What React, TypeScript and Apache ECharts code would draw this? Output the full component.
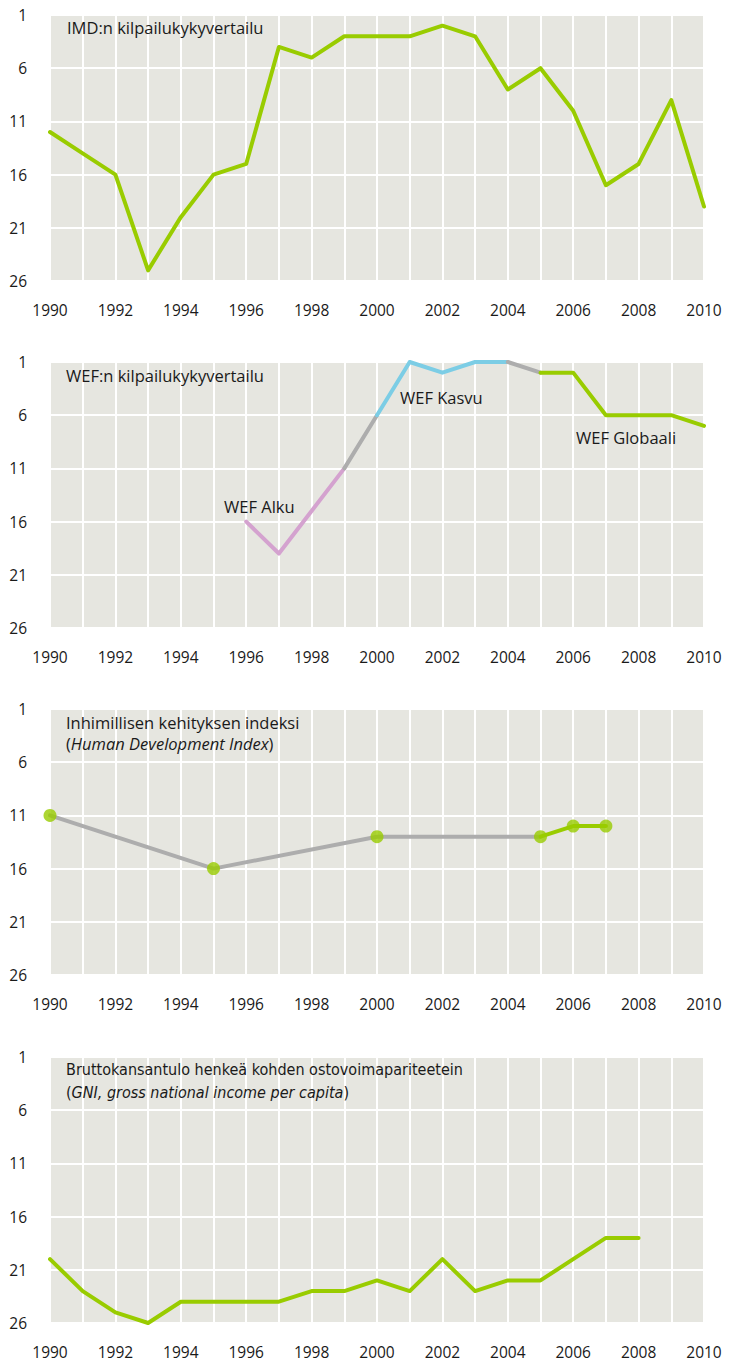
import React, { useEffect, useRef } from "react";
import * as echarts from "echarts";

const years = [1990, 1991, 1992, 1993, 1994, 1995, 1996, 1997, 1998, 1999, 2000, 2001, 2002, 2003, 2004, 2005, 2006, 2007, 2008, 2009, 2010];
const yTicks = [1, 6, 11, 16, 21, 26];

// Panel 1: IMD
const imd = [12, 14, 16, 25, 20, 16, 15, 4, 5, 3, 3, 3, 2, 3, 8, 6, 10, 17, 15, 9, 19];

// Panel 2: WEF segments
const wefAlkuYears = [1996, 1997, 1998, 1999];
const wefAlku = [16, 19, 15, 11];
const wefLink1Years = [1999, 2000];
const wefLink1 = [11, 6];
const wefKasvuYears = [2000, 2001, 2002, 2003, 2004];
const wefKasvu = [6, 1, 2, 1, 1];
const wefLink2Years = [2004, 2005];
const wefLink2 = [1, 2];
const wefGlobaaliYears = [2005, 2006, 2007, 2008, 2009, 2010];
const wefGlobaali = [2, 2, 6, 6, 6, 7];

// Panel 3: HDI
const hdiYears = [1990, 1995, 2000, 2005, 2006, 2007];
const hdi = [11, 16, 13, 13, 12, 12];

// Panel 4: GNI
const gniYears = [1990, 1991, 1992, 1993, 1994, 1995, 1996, 1997, 1998, 1999, 2000, 2001, 2002, 2003, 2004, 2005, 2006, 2007, 2008];
const gni = [20, 23, 25, 26, 24, 24, 24, 24, 23, 23, 22, 23, 20, 23, 22, 22, 20, 18, 18];

const GREEN = "#99cc00";
const BLUE = "#7ccde5";
const PINK = "#d4a2cf";
const GRAY = "#adadad";
const BG = "#e6e6e0";
const FONT = "'Open Sans', Lato, sans-serif";
const NARROW = "'Liberation Sans Narrow', 'DejaVu Sans Condensed', Lato, sans-serif";

const pair = (xs: number[], ys: number[]) => xs.map((x, i) => [x, ys[i]]);

const gridTops = [15, 362, 709, 1057];
const GRID_LEFT = 50;
const GRID_W = 654;
const GRID_H = 266;

export default function App() {
  const ref = useRef<HTMLDivElement>(null);
  useEffect(() => {
    document.body.style.margin = "0";
    const chart = echarts.init(ref.current!, undefined, { renderer: "svg" });

    const grids = gridTops.map((t) => ({
      left: GRID_LEFT,
      top: t,
      width: GRID_W,
      height: GRID_H,
      show: true,
      backgroundColor: BG,
      borderWidth: 0,
      containLabel: false,
    }));

    const xAxes = gridTops.map((_, i) => ({
      type: "value",
      gridIndex: i,
      min: years[0],
      max: years[years.length - 1],
      interval: 1,
      axisLine: { show: false },
      axisTick: { show: false },
      axisLabel: {
        margin: 21,
        fontSize: 15.5,
        color: "#1a1a1a",
        fontFamily: FONT,
        formatter: (v: number) => (v % 2 === 0 ? String(v) : ""),
      },
      splitLine: { show: true, lineStyle: { color: "#ffffff", width: 2 } },
    }));

    const yAxes = gridTops.map((_, i) => ({
      type: "value",
      gridIndex: i,
      inverse: true,
      min: yTicks[0],
      max: yTicks[yTicks.length - 1],
      interval: 5,
      axisLine: { show: false },
      axisTick: { show: false },
      axisLabel: {
        margin: 23,
        fontSize: 15.5,
        color: "#1a1a1a",
        fontFamily: FONT,
      },
      splitLine: { show: true, lineStyle: { color: "#ffffff", width: 2 } },
    }));

    const lineSeries = (idx: number, data: number[][], color: string, extra: any = {}) => ({
      type: "line",
      xAxisIndex: idx,
      yAxisIndex: idx,
      data,
      showSymbol: false,
      symbol: "none",
      lineStyle: { color, width: 4, cap: "round", join: "round" },
      silent: true,
      ...extra,
    });

    const series: any[] = [
      lineSeries(0, pair(years, imd), GREEN),
      lineSeries(1, pair(wefAlkuYears, wefAlku), PINK),
      lineSeries(1, pair(wefLink1Years, wefLink1), GRAY),
      lineSeries(1, pair(wefKasvuYears, wefKasvu), BLUE),
      lineSeries(1, pair(wefLink2Years, wefLink2), GRAY),
      lineSeries(1, pair(wefGlobaaliYears, wefGlobaali), GREEN),
      lineSeries(2, pair(hdiYears.slice(0, 4), hdi.slice(0, 4)), GRAY),
      lineSeries(2, pair(hdiYears.slice(3), hdi.slice(3)), GREEN),
      {
        type: "scatter",
        xAxisIndex: 2,
        yAxisIndex: 2,
        data: pair(hdiYears, hdi),
        symbol: "circle",
        symbolSize: 13,
        itemStyle: { color: GREEN },
        silent: true,
        z: 5,
      },
      lineSeries(3, pair(gniYears, gni), GREEN),
    ];

    const txt = (x: number, y: number, text: string, size = 16.5) => ({
      type: "text",
      x,
      y,
      z: 100,
      silent: true,
      style: {
        text,
        fill: "#1a1a1a",
        font: `${size}px ${FONT}`,
        textVerticalAlign: "middle",
      },
    });

    const richTitle = (x: number, y: number, line1: string, italic: string, family: string, size: number, lh: number) => ({
      type: "text",
      x,
      y,
      z: 100,
      silent: true,
      style: {
        text: `{n|${line1}}\n{n|(}{i|${italic}}{n|)}`,
        fill: "#1a1a1a",
        textVerticalAlign: "top",
        rich: {
          n: { fontSize: size, fontFamily: family, lineHeight: lh, fill: "#1a1a1a" },
          i: { fontSize: size, fontFamily: family, fontStyle: "italic", lineHeight: lh, fill: "#1a1a1a" },
        },
      },
    });

    chart.setOption({
      animation: false,
      grid: grids,
      xAxis: xAxes,
      yAxis: yAxes,
      series,
      graphic: [
        txt(67, 27, "IMD:n kilpailukykyvertailu"),
        txt(66, 375, "WEF:n kilpailukykyvertailu"),
        txt(400, 397, "WEF Kasvu"),
        txt(576, 437, "WEF Globaali"),
        txt(224, 506, "WEF Alku"),
        richTitle(66, 712, "Inhimillisen kehityksen indeksi", "Human Development Index", FONT, 16.5, 21),
        richTitle(66, 1058, "Bruttokansantulo henkeä kohden ostovoimapariteetein", "GNI, gross national income per capita", NARROW, 16, 23),
      ],
    });
    return () => chart.dispose();
  }, []);
  return <div ref={ref} style={{ width: 733, height: 1368 }} />;
}
